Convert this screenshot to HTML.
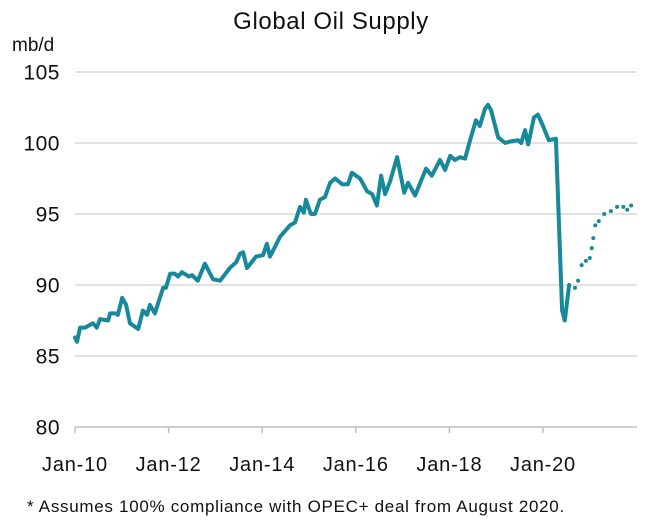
<!DOCTYPE html>
<html><head><meta charset="utf-8"><style>
body{margin:0;background:#fff;font-family:"Liberation Sans",sans-serif;}
svg text{font-family:"Liberation Sans","DejaVu Sans",sans-serif;fill:#111;}
</style></head><body>
<svg id="chart" width="647" height="525">
<text x="331" y="29" text-anchor="middle" font-size="24" letter-spacing="0.6">Global Oil Supply</text>
<text x="12" y="51" font-size="19">mb/d</text>
<g id="grid"></g><g id="yt"></g><g id="xt"></g><g id="series"></g>
<text x="27" y="512" font-size="17" letter-spacing="0.7">* Assumes 100% compliance with OPEC+ deal from August 2020.</text>
</svg>
<script>
// months since Jan-2010, value in mb/d
const actualMonths=[0,0.5,1.3,2.6,4.6,5.6,6.4,8.5,9.0,10.3,11.0,12.1,13.1,14.1,16.2,17.4,18.5,19.2,20.5,22.6,23.3,24.4,25.6,26.4,27.4,29.2,30.0,31.5,33.3,35.4,37.2,39.7,41.3,42.3,43.1,44.1,46.4,48.2,49.2,50.0,52.6,55.1,56.4,57.7,58.7,59.2,60.5,61.5,62.8,64.1,65.4,66.7,68.5,70.0,71.0,73.1,74.9,76.2,77.4,78.5,79.5,80.8,82.6,84.4,85.4,87.2,90.0,91.5,93.6,94.9,96.2,97.4,98.7,100.0,101.3,102.8,103.8,105.1,105.9,106.7,108.5,110.3,111.5,113.6,114.4,115.4,116.2,117.7,118.7,120.0,121.5,123.3,124.9,125.6,126.7];
const actualValues=[86.3,86.0,87.0,87.0,87.3,87.0,87.6,87.5,88.0,88.0,87.9,89.1,88.6,87.3,86.9,88.2,87.9,88.6,88.0,89.8,89.8,90.8,90.8,90.6,90.9,90.6,90.7,90.3,91.5,90.4,90.3,91.2,91.6,92.2,92.3,91.2,92.0,92.1,92.9,92.0,93.4,94.2,94.4,95.5,95.1,96.0,95.0,95.0,96.0,96.2,97.2,97.5,97.1,97.1,97.9,97.5,96.6,96.4,95.6,97.7,96.4,97.3,99.0,96.5,97.2,96.3,98.2,97.7,98.8,98.1,99.1,98.8,99.0,98.9,100.2,101.6,101.2,102.4,102.7,102.3,100.4,100.0,100.1,100.2,100.0,100.9,99.9,101.8,102.0,101.2,100.2,100.3,88.2,87.5,90.0];
const forecastMonths=[128.2,129.0,129.9,131.0,132.0,132.5,132.9,133.4,134.3,135.7,137.4,139.0,140.6,141.6,142.6];
const forecastValues=[89.8,90.3,91.4,91.7,91.9,92.6,93.3,94.2,94.5,95.0,95.2,95.5,95.5,95.3,95.6];
const yTicks=[80,85,90,95,100,105];
const xTickLabels=["Jan-10","Jan-12","Jan-14","Jan-16","Jan-18","Jan-20"];
const xTickMonths=[0,24,48,72,96,120];

const NS="http://www.w3.org/2000/svg";
const X=m=>75+m*3.9, Y=v=>427-(v-80)*14.2;
function mk(tag,attrs,parent){const e=document.createElementNS(NS,tag);for(const k in attrs)e.setAttribute(k,attrs[k]);document.getElementById(parent).appendChild(e);return e;}
yTicks.forEach(t=>{
  const l=mk('line',{x1:75,x2:637,y1:Y(t),y2:Y(t),stroke:t===80?'#bfbfbf':'#d9d9d9','stroke-width':1.5},'grid');
  
  
  const tx=mk('text',{x:60,y:Y(t)+7.5,'text-anchor':'end','font-size':21,'letter-spacing':0.5},'yt');tx.textContent=t;
  
  
});
xTickLabels.forEach((s,i)=>{
  const tk=mk('line',{x1:X(xTickMonths[i]),x2:X(xTickMonths[i]),y1:427,y2:433,stroke:'#bfbfbf','stroke-width':1.5},'xt');
  
  
  const tx=mk('text',{x:X(xTickMonths[i]),y:471,'text-anchor':'middle','font-size':20,'letter-spacing':0.8},'xt');tx.textContent=s;
  
  
});
const n=Math.min(actualMonths.length,actualValues.length);
let d='';for(let i=0;i<n;i++)d+=(i?'L':'M')+X(actualMonths[i]).toFixed(1)+','+Y(actualValues[i]).toFixed(1);
const p=mk('path',{d:d,fill:'none',stroke:'#17899b','stroke-width':4,'stroke-linejoin':'round','stroke-linecap':'round'},'series');


forecastMonths.forEach((m,i)=>{
  const c=mk('circle',{cx:X(m),cy:Y(forecastValues[i]),r:2,fill:'#17899b'},'series');
  
  
});
</script>
</body></html>
